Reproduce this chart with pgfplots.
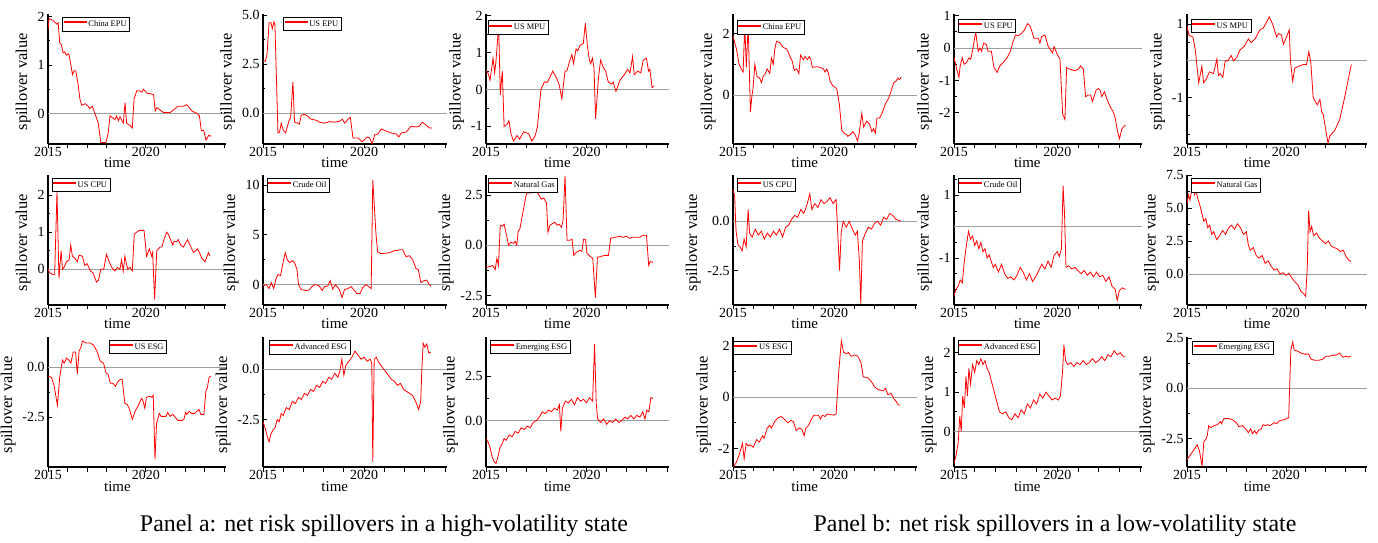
\documentclass[border=0pt]{standalone}
\usepackage{fontspec}
\setmainfont{Liberation Serif}
\usepackage{pgfplots}
\pgfplotsset{compat=1.18}
\pgfplotsset{
  sp/.style={
    scale only axis, anchor=south west,
    height=130bp,
    xmin=2015, xmax=2024.1,
    axis x line*=bottom, axis y line*=left,
    axis line style={line width=1.1pt, black},
    xtick={2015,2016,...,2024},
    xticklabels={2015,,,,,2020},
    minor y tick num=1,
    tick align=inside,
    major tick length=4.5bp, minor tick length=2.5bp,
    tick style={black, line width=0.8pt},
    x tick style={yshift=-4.5bp},
    xticklabel style={font=\fontsize{14}{14}\selectfont},
    yticklabel style={font=\fontsize{14}{14}\selectfont},
    xlabel={time}, ylabel={spillover value},
    xlabel style={font=\fontsize{15}{15}\selectfont, at={(axis description cs:0.39,0)}, anchor=base, yshift=-24bp},
    ylabel style={font=\fontsize{16.5}{16.5}\selectfont, at={(ticklabel cs:0.48)}, anchor=near ticklabel},
    legend cell align=left,
    legend style={draw=black, line width=0.7pt, font=\fontsize{8.5}{9}\selectfont, inner xsep=1pt, inner ysep=1pt, anchor=north west},
  },
  zl/.style={gray!75, line width=0.8pt, forget plot},
  sl/.style={red, line width=0.8pt, legend image code/.code={\fill[red] (0bp,1.4bp) rectangle (22bp,2.4bp);}},
}
\begin{document}
\begin{tikzpicture}
\useasboundingbox (0,0) rectangle (1378bp,543bp);

% ---------------- Panel a ----------------
\begin{axis}[sp, at={(48bp,399bp)}, width=178bp, ymin=-0.63, ymax=2.05, ytick={0,1,2}, yticklabels={0,1,2}, legend style={at={(axis description cs:0.08,0.975)}}]
\addplot[zl] coordinates {(2015,0) (2024.1,0)};
\addplot[sl] coordinates {(2015.0,1.72) (2015.05,1.95) (2015.25,1.92) (2015.35,1.88) (2015.45,1.84) (2015.52,1.87) (2015.6,1.45) (2015.68,1.42) (2015.77,1.25) (2015.85,1.27) (2015.94,1.2) (2016.06,1.23) (2016.15,1.05) (2016.25,0.8) (2016.33,0.88) (2016.42,0.88) (2016.54,0.6) (2016.63,0.3) (2016.72,0.17) (2016.9,0.2) (2017.05,0.15) (2017.13,0.1) (2017.26,0.15) (2017.4,0.0) (2017.57,-0.2) (2017.7,-0.6) (2017.96,-0.6) (2018.08,-0.4) (2018.17,-0.05) (2018.34,-0.1) (2018.42,-0.13) (2018.5,-0.05) (2018.6,-0.15) (2018.68,-0.07) (2018.85,-0.2) (2018.94,0.22) (2019.02,-0.2) (2019.2,-0.25) (2019.31,-0.3) (2019.4,0.3) (2019.54,0.47) (2019.68,0.46) (2019.8,0.44) (2019.88,0.5) (2020.05,0.42) (2020.3,0.4) (2020.4,0.38) (2020.48,0.05) (2020.56,0.12) (2020.7,0.08) (2020.9,0.02) (2021.25,0.02) (2021.5,0.1) (2021.65,0.15) (2021.93,0.15) (2022.1,0.18) (2022.36,0.05) (2022.62,0.0) (2022.74,-0.05) (2022.84,-0.35) (2022.96,-0.35) (2023.08,-0.55) (2023.22,-0.45) (2023.34,-0.47)};
\addlegendentry{China EPU}
\end{axis}

\begin{axis}[sp, at={(263bp,399bp)}, width=184bp, ymin=-1.56, ymax=5.05, ytick={0,2.5,5}, yticklabels={0.0,2.5,5.0}, legend style={at={(axis description cs:0.11,0.975)}}]
\addplot[zl] coordinates {(2015,0) (2024.1,0)};
\addplot[sl] coordinates {(2015.0,2.65) (2015.12,2.65) (2015.2,3.0) (2015.3,4.6) (2015.4,4.6) (2015.46,4.3) (2015.54,4.65) (2015.59,4.5) (2015.74,-1.0) (2015.82,-0.95) (2015.9,-0.5) (2016.0,-0.85) (2016.12,-1.0) (2016.28,-0.4) (2016.37,-0.2) (2016.48,1.6) (2016.56,-0.45) (2016.72,-0.5) (2016.8,-0.55) (2016.89,-0.1) (2017.05,-0.05) (2017.22,-0.15) (2017.38,-0.3) (2017.63,-0.35) (2017.8,-0.45) (2018.05,-0.5) (2018.3,-0.42) (2018.54,-0.45) (2018.79,-0.4) (2018.92,-0.3) (2019.04,-0.5) (2019.2,-0.3) (2019.32,-0.2) (2019.45,-1.25) (2019.7,-1.25) (2019.9,-1.45) (2020.02,-1.35) (2020.14,-1.2) (2020.27,-1.25) (2020.4,-1.55) (2020.52,-1.1) (2020.68,-1.05) (2020.85,-0.8) (2021.1,-0.9) (2021.34,-1.0) (2021.59,-1.05) (2021.72,-1.2) (2021.84,-1.0) (2022.08,-0.95) (2022.33,-0.65) (2022.58,-0.7) (2022.74,-0.65) (2022.87,-0.45) (2023.07,-0.6) (2023.24,-0.75) (2023.35,-0.75)};
\addlegendentry{US EPU}
\end{axis}

\begin{axis}[sp, at={(486bp,399bp)}, width=183bp, ymin=-1.48, ymax=2.05, ytick={-1,0,1,2}, yticklabels={-1,0,1,2}, legend style={at={(axis description cs:0.01,0.95)}}]
\addplot[zl] coordinates {(2015,0) (2024.1,0)};
\addplot[sl] coordinates {(2015.0,0.5) (2015.1,0.45) (2015.2,0.25) (2015.35,0.85) (2015.43,0.45) (2015.5,0.8) (2015.63,1.75) (2015.71,-0.15) (2015.81,0.5) (2015.9,-1.0) (2016.04,-0.95) (2016.14,-0.85) (2016.24,-1.2) (2016.37,-1.4) (2016.54,-1.25) (2016.67,-1.35) (2016.87,-1.15) (2017.12,-1.2) (2017.28,-1.4) (2017.45,-1.25) (2017.56,-1.0) (2017.73,0.0) (2017.9,0.2) (2018.06,0.2) (2018.32,0.5) (2018.52,0.3) (2018.65,0.1) (2018.77,-0.25) (2018.93,0.5) (2019.02,0.5) (2019.15,0.75) (2019.27,0.95) (2019.35,0.7) (2019.48,1.1) (2019.56,1.05) (2019.68,1.2) (2019.84,1.25) (2019.94,1.8) (2020.04,1.2) (2020.14,0.8) (2020.21,0.7) (2020.29,0.85) (2020.37,0.6) (2020.45,-0.8) (2020.59,0.3) (2020.7,0.8) (2020.83,0.6) (2020.95,0.5) (2021.08,0.2) (2021.25,0.15) (2021.33,0.2) (2021.46,-0.05) (2021.66,0.25) (2021.88,0.4) (2022.04,0.55) (2022.16,0.45) (2022.29,0.9) (2022.37,0.4) (2022.54,0.5) (2022.7,0.45) (2022.82,0.8) (2022.98,0.85) (2023.08,0.5) (2023.15,0.55) (2023.26,0.05) (2023.36,0.1)};
\addlegendentry{US MPU}
\end{axis}

\begin{axis}[sp, at={(48bp,238bp)}, width=178bp, ymin=-0.97, ymax=2.55, ytick={0,1,2}, yticklabels={0,1,2}, legend style={at={(axis description cs:0.02,0.975)}}]
\addplot[zl] coordinates {(2015,0) (2024.1,0)};
\addplot[sl] coordinates {(2015.0,0.0) (2015.09,-0.1) (2015.26,-0.15) (2015.34,-0.15) (2015.46,2.1) (2015.56,-0.25) (2015.67,0.5) (2015.74,0.0) (2015.82,0.05) (2015.94,0.2) (2016.08,0.25) (2016.16,0.65) (2016.25,0.35) (2016.37,0.3) (2016.5,0.2) (2016.59,0.38) (2016.76,0.35) (2016.88,0.1) (2017.0,0.15) (2017.17,-0.05) (2017.3,-0.1) (2017.48,-0.35) (2017.58,-0.3) (2017.7,0.0) (2017.85,0.0) (2017.99,0.4) (2018.13,0.2) (2018.26,0.05) (2018.42,-0.05) (2018.54,0.05) (2018.68,0.0) (2018.76,0.25) (2018.85,-0.05) (2018.93,0.35) (2019.07,0.0) (2019.19,0.05) (2019.31,-0.05) (2019.41,0.95) (2019.53,1.0) (2019.67,1.05) (2019.91,1.05) (2020.04,0.35) (2020.18,0.55) (2020.3,0.35) (2020.35,0.45) (2020.45,-0.82) (2020.56,0.5) (2020.73,0.6) (2020.82,0.6) (2020.93,0.8) (2021.07,1.0) (2021.15,0.95) (2021.38,0.65) (2021.44,0.75) (2021.58,0.75) (2021.66,0.8) (2021.79,0.65) (2021.92,0.6) (2022.13,0.8) (2022.26,0.65) (2022.44,0.45) (2022.64,0.55) (2022.74,0.45) (2022.86,0.3) (2023.03,0.2) (2023.2,0.45) (2023.29,0.35)};
\addlegendentry{US CPU}
\end{axis}

\begin{axis}[sp, at={(263bp,238bp)}, width=184bp, ymin=-2.05, ymax=11, ytick={0,5,10}, yticklabels={0,5,10}, legend style={at={(axis description cs:0.02,0.975)}}]
\addplot[zl] coordinates {(2015,0) (2024.1,0)};
\addplot[sl] coordinates {(2015.0,-0.15) (2015.16,0.0) (2015.3,-0.4) (2015.41,0.2) (2015.53,-0.4) (2015.63,0.5) (2015.74,1.0) (2015.87,0.9) (2015.99,2.2) (2016.1,3.2) (2016.2,2.5) (2016.32,2.2) (2016.45,2.4) (2016.56,2.2) (2016.68,1.5) (2016.76,0.0) (2016.89,-0.5) (2017.14,-0.6) (2017.27,-0.55) (2017.43,-0.2) (2017.55,0.0) (2017.76,-0.1) (2017.93,-0.6) (2018.04,-0.2) (2018.2,-0.15) (2018.32,0.4) (2018.45,-0.45) (2018.58,0.0) (2018.78,-0.5) (2018.91,-1.3) (2019.03,-0.5) (2019.2,-0.4) (2019.36,-0.2) (2019.64,-0.9) (2019.8,-0.9) (2019.93,-0.3) (2020.1,0.0) (2020.35,-0.4) (2020.43,10.5) (2020.59,5.0) (2020.67,3.3) (2020.84,3.1) (2021.25,3.2) (2021.5,3.4) (2021.83,3.5) (2021.91,3.5) (2022.07,2.8) (2022.24,2.9) (2022.4,2.5) (2022.57,1.6) (2022.68,1.5) (2022.81,0.2) (2022.98,0.4) (2023.1,0.45) (2023.22,0.0) (2023.32,-0.15)};
\addlegendentry{Crude Oil}
\end{axis}

\begin{axis}[sp, at={(486bp,238bp)}, width=183bp, ymin=-2.97, ymax=3.5, ytick={-2.5,0,2.5}, yticklabels={-2.5,0.0,2.5}, legend style={at={(axis description cs:0.01,0.975)}}]
\addplot[zl] coordinates {(2015,0) (2024.1,0)};
\addplot[sl] coordinates {(2015.0,-1.1) (2015.21,-1.05) (2015.33,-1.0) (2015.46,-1.2) (2015.54,-0.65) (2015.62,-1.0) (2015.71,1.0) (2015.82,0.95) (2015.9,1.05) (2016.0,0.6) (2016.12,0.0) (2016.23,0.15) (2016.37,0.1) (2016.45,0.2) (2016.53,0.0) (2016.6,0.7) (2016.68,0.8) (2016.81,1.5) (2016.9,2.0) (2017.02,2.6) (2017.22,2.6) (2017.47,2.65) (2017.58,2.6) (2017.75,2.3) (2017.88,2.35) (2018.01,2.1) (2018.08,0.65) (2018.18,1.0) (2018.34,1.1) (2018.42,1.15) (2018.54,1.0) (2018.64,1.05) (2018.75,0.9) (2018.83,1.2) (2018.93,3.45) (2019.03,0.25) (2019.16,0.25) (2019.28,0.3) (2019.36,-0.5) (2019.49,-0.35) (2019.66,-0.25) (2019.77,-0.3) (2019.85,0.3) (2019.95,0.3) (2020.02,-0.4) (2020.18,-0.55) (2020.31,-0.65) (2020.44,-2.6) (2020.54,-0.6) (2020.71,-0.55) (2020.92,-0.5) (2021.09,-0.5) (2021.2,0.35) (2021.41,0.4) (2021.66,0.45) (2021.79,0.4) (2021.99,0.45) (2022.15,0.35) (2022.28,0.4) (2022.65,0.4) (2022.81,0.5) (2022.98,0.5) (2023.09,-1.0) (2023.17,-0.8) (2023.3,-0.85)};
\addlegendentry{Natural Gas}
\end{axis}

\begin{axis}[sp, at={(48bp,76bp)}, width=178bp, ymin=-4.97, ymax=1.5, ytick={-2.5,0}, yticklabels={-2.5,0.0}, legend style={at={(axis description cs:0.34,0.975)}}]
\addplot[zl] coordinates {(2015,0) (2024.1,0)};
\addplot[sl] coordinates {(2015.0,-0.45) (2015.17,-0.5) (2015.31,-0.9) (2015.48,-1.9) (2015.6,-0.5) (2015.74,0.35) (2015.83,0.2) (2015.95,0.45) (2016.07,0.35) (2016.17,0.2) (2016.29,0.75) (2016.41,0.75) (2016.5,-0.35) (2016.59,0.8) (2016.69,1.0) (2016.76,1.3) (2016.93,1.2) (2017.16,1.2) (2017.33,1.1) (2017.5,0.8) (2017.67,0.3) (2017.84,0.2) (2017.97,-0.3) (2018.07,-0.35) (2018.19,-0.8) (2018.31,-0.8) (2018.45,-0.95) (2018.59,-0.7) (2018.71,-0.6) (2018.79,-0.6) (2018.93,-1.8) (2019.05,-1.85) (2019.17,-2.1) (2019.31,-2.6) (2019.45,-2.2) (2019.62,-1.9) (2019.79,-1.55) (2019.86,-1.7) (2019.95,-2.05) (2020.03,-1.5) (2020.2,-1.45) (2020.31,-1.5) (2020.38,-1.4) (2020.47,-4.6) (2020.55,-2.8) (2020.69,-2.3) (2020.78,-2.45) (2021.03,-2.45) (2021.12,-2.25) (2021.24,-2.45) (2021.38,-2.35) (2021.47,-2.45) (2021.64,-2.65) (2021.86,-2.65) (2021.95,-2.6) (2022.03,-2.25) (2022.1,-2.35) (2022.22,-2.2) (2022.33,-2.3) (2022.5,-2.3) (2022.72,-2.1) (2022.81,-2.35) (2022.97,-2.35) (2023.07,-1.2) (2023.14,-1.05) (2023.24,-0.5) (2023.33,-0.45)};
\addlegendentry{US ESG}
\end{axis}

\begin{axis}[sp, at={(263bp,76bp)}, width=184bp, ymin=-4.85, ymax=1.6, ytick={-2.5,0}, yticklabels={-2.5,0.0}, legend style={at={(axis description cs:0.03,0.975)}}]
\addplot[zl] coordinates {(2015,0) (2024.1,0)};
\addplot[sl] coordinates {(2015.0,-2.6) (2015.1,-2.9) (2015.2,-3.3) (2015.3,-3.6) (2015.4,-3.2) (2015.5,-3.0) (2015.6,-2.9) (2015.7,-2.5) (2015.8,-2.6) (2015.9,-2.2) (2016.0,-2.3) (2016.15,-1.9) (2016.3,-2.0) (2016.45,-1.6) (2016.6,-1.7) (2016.75,-1.4) (2016.9,-1.5) (2017.05,-1.2) (2017.2,-1.3) (2017.35,-1.0) (2017.5,-1.1) (2017.65,-0.8) (2017.8,-0.9) (2017.95,-0.6) (2018.1,-0.7) (2018.25,-0.4) (2018.4,-0.5) (2018.55,-0.2) (2018.7,-0.4) (2018.8,-0.1) (2018.9,0.5) (2019.0,-0.3) (2019.1,0.2) (2019.25,0.4) (2019.4,0.6) (2019.55,0.9) (2019.7,0.7) (2019.85,0.5) (2020.0,0.6) (2020.15,0.4) (2020.3,0.5) (2020.38,0.3) (2020.43,-4.6) (2020.5,0.5) (2020.6,0.6) (2020.75,0.3) (2020.9,0.1) (2021.05,-0.1) (2021.2,-0.3) (2021.35,-0.5) (2021.5,-0.6) (2021.65,-0.8) (2021.8,-0.7) (2021.95,-1.0) (2022.1,-1.1) (2022.25,-1.2) (2022.4,-1.3) (2022.55,-1.6) (2022.7,-2.0) (2022.8,-1.6) (2022.85,-0.2) (2022.92,1.3) (2023.0,1.1) (2023.1,1.25) (2023.2,0.8) (2023.3,0.85)};
\addlegendentry{Advanced ESG}
\end{axis}

\begin{axis}[sp, at={(486bp,76bp)}, width=183bp, ymin=-2.6, ymax=4.7, ytick={0,2.5}, yticklabels={0.0,2.5}, legend style={at={(axis description cs:0.02,0.975)}}]
\addplot[zl] coordinates {(2015,0) (2024.1,0)};
\addplot[sl] coordinates {(2015.0,-1.0) (2015.1,-1.2) (2015.2,-1.5) (2015.3,-2.0) (2015.4,-2.3) (2015.5,-2.4) (2015.6,-2.0) (2015.7,-1.5) (2015.8,-1.3) (2015.9,-1.0) (2016.0,-1.1) (2016.15,-0.8) (2016.3,-0.9) (2016.45,-0.6) (2016.6,-0.7) (2016.75,-0.4) (2016.9,-0.5) (2017.05,-0.3) (2017.2,-0.4) (2017.35,-0.1) (2017.5,0.0) (2017.65,0.2) (2017.8,0.5) (2017.95,0.4) (2018.1,0.6) (2018.25,0.5) (2018.4,0.7) (2018.55,0.6) (2018.65,0.9) (2018.72,-0.6) (2018.8,0.7) (2018.95,1.1) (2019.1,1.0) (2019.25,1.2) (2019.4,0.9) (2019.55,1.3) (2019.7,1.1) (2019.85,1.2) (2020.0,1.0) (2020.15,1.3) (2020.3,1.1) (2020.4,4.3) (2020.48,1.0) (2020.55,0.1) (2020.7,-0.1) (2020.85,0.1) (2021.0,-0.2) (2021.15,0.0) (2021.3,-0.1) (2021.45,0.1) (2021.6,-0.1) (2021.75,0.0) (2021.9,0.2) (2022.05,0.1) (2022.2,0.3) (2022.35,0.1) (2022.5,0.3) (2022.65,0.2) (2022.8,0.5) (2022.9,0.1) (2023.0,0.6) (2023.1,0.5) (2023.2,1.3) (2023.3,1.25)};
\addlegendentry{Emerging ESG}
\end{axis}

% ---------------- Panel b ----------------
\begin{axis}[sp, at={(733bp,399bp)}, width=184bp, ymin=-1.6, ymax=2.64, ytick={0,2}, yticklabels={0,2}, legend style={at={(axis description cs:0.02,0.95)}}]
\addplot[zl] coordinates {(2015,0) (2024.1,0)};
\addplot[sl] coordinates {(2015.0,1.92) (2015.17,1.5) (2015.3,1.0) (2015.41,0.85) (2015.5,0.75) (2015.58,2.25) (2015.66,0.9) (2015.75,2.3) (2015.86,-0.55) (2015.94,0.0) (2015.99,0.2) (2016.08,1.0) (2016.19,0.6) (2016.32,0.55) (2016.41,0.4) (2016.49,0.6) (2016.6,0.7) (2016.69,0.85) (2016.82,0.7) (2016.9,1.2) (2016.99,1.0) (2017.07,1.5) (2017.15,1.75) (2017.32,1.7) (2017.48,1.55) (2017.65,1.5) (2017.73,1.4) (2017.85,1.2) (2017.93,1.1) (2018.03,0.8) (2018.15,0.85) (2018.26,0.7) (2018.34,1.3) (2018.48,1.15) (2018.56,1.25) (2018.68,1.15) (2018.77,1.25) (2018.85,1.15) (2018.92,0.9) (2019.14,0.92) (2019.3,0.9) (2019.47,0.85) (2019.55,0.75) (2019.64,0.85) (2019.72,0.7) (2019.8,0.45) (2019.93,0.3) (2020.05,0.25) (2020.13,0.2) (2020.26,-0.3) (2020.38,-1.15) (2020.5,-1.25) (2020.63,-1.3) (2020.68,-1.35) (2020.79,-1.3) (2020.93,-1.2) (2021.04,-1.3) (2021.16,-1.5) (2021.24,-1.25) (2021.37,-0.6) (2021.46,-1.05) (2021.62,-0.85) (2021.75,-0.95) (2021.87,-1.2) (2021.95,-1.1) (2022.04,-1.25) (2022.12,-0.75) (2022.25,-0.75) (2022.37,-0.6) (2022.53,-0.3) (2022.7,-0.1) (2022.78,0.05) (2022.95,0.4) (2023.06,0.45) (2023.16,0.55) (2023.23,0.5) (2023.33,0.58)};
\addlegendentry{China EPU}
\end{axis}

\begin{axis}[sp, at={(954bp,399bp)}, width=188bp, ymin=-2.96, ymax=1.05, ytick={-2,-1,0,1}, yticklabels={-2,-1,0,1}, legend style={at={(axis description cs:0.02,0.96)}}]
\addplot[zl] coordinates {(2015,0) (2024.1,0)};
\addplot[sl] coordinates {(2015.0,-0.28) (2015.11,-0.6) (2015.24,-0.9) (2015.3,-0.55) (2015.4,-0.3) (2015.49,-0.5) (2015.6,-0.45) (2015.73,-0.3) (2015.81,-0.35) (2015.92,0.0) (2016.05,0.5) (2016.17,-0.1) (2016.25,0.0) (2016.33,-0.1) (2016.44,0.15) (2016.57,0.1) (2016.65,-0.1) (2016.81,-0.1) (2016.93,-0.6) (2017.09,-0.75) (2017.22,-0.55) (2017.38,-0.45) (2017.57,-0.3) (2017.73,-0.1) (2017.86,0.2) (2017.98,0.4) (2018.11,0.38) (2018.27,0.45) (2018.4,0.55) (2018.56,0.75) (2018.67,0.7) (2018.75,0.55) (2018.87,0.3) (2019.08,0.3) (2019.16,0.15) (2019.24,0.35) (2019.4,0.4) (2019.56,0.05) (2019.77,-0.15) (2019.84,0.05) (2020.0,-0.2) (2020.13,-0.35) (2020.26,-2.05) (2020.37,-2.2) (2020.45,-0.6) (2020.58,-0.65) (2020.86,-0.7) (2021.02,-0.65) (2021.13,-0.55) (2021.26,-0.65) (2021.37,-1.5) (2021.5,-1.45) (2021.61,-1.45) (2021.7,-1.65) (2021.88,-1.3) (2021.99,-1.25) (2022.07,-1.3) (2022.15,-1.5) (2022.28,-1.35) (2022.42,-1.6) (2022.55,-1.8) (2022.69,-1.95) (2022.8,-2.15) (2022.91,-2.55) (2023.01,-2.8) (2023.12,-2.5) (2023.24,-2.4) (2023.32,-2.4)};
\addlegendentry{US EPU}
\end{axis}

\begin{axis}[sp, at={(1187bp,399bp)}, width=180bp, ymin=-2.27, ymax=1.28, ytick={-1,1}, yticklabels={-1,1}, minor ytick={-2,-1.5,-0.5,0,0.5}, minor y tick num=0, legend style={at={(axis description cs:0.02,0.96)}}]
\addplot[zl] coordinates {(2015,0) (2024.1,0)};
\addplot[sl] coordinates {(2015.0,0.95) (2015.1,0.7) (2015.3,0.65) (2015.42,0.3) (2015.59,-0.6) (2015.75,-0.15) (2015.84,-0.6) (2015.97,-0.5) (2016.14,-0.3) (2016.34,-0.35) (2016.51,0.05) (2016.59,-0.4) (2016.68,-0.35) (2016.81,-0.45) (2016.93,0.0) (2017.06,0.0) (2017.23,0.15) (2017.35,0.0) (2017.52,0.1) (2017.68,0.3) (2017.9,0.4) (2018.1,0.6) (2018.24,0.5) (2018.44,0.6) (2018.69,0.85) (2018.86,0.9) (2019.16,1.2) (2019.33,1.0) (2019.53,0.65) (2019.62,0.75) (2019.78,0.7) (2019.87,0.45) (2019.95,0.55) (2020.17,0.85) (2020.23,0.0) (2020.34,-0.55) (2020.45,-0.2) (2020.62,-0.15) (2020.87,-0.1) (2021.04,-0.1) (2021.16,0.25) (2021.26,-0.05) (2021.38,-1.0) (2021.58,-1.2) (2021.72,-1.05) (2021.81,-1.4) (2021.88,-1.45) (2022.13,-2.25) (2022.22,-2.05) (2022.47,-1.9) (2022.72,-1.6) (2022.97,-1.0) (2023.19,-0.4) (2023.31,-0.1)};
\addlegendentry{US MPU}
\end{axis}

\begin{axis}[sp, at={(733bp,238bp)}, width=184bp, ymin=-4.25, ymax=2.35, ytick={-2.5,0}, yticklabels={-2.5,0.0}, legend style={at={(axis description cs:0.02,0.975)}}]
\addplot[zl] coordinates {(2015,0) (2024.1,0)};
\addplot[sl] coordinates {(2015.0,1.6) (2015.08,1.3) (2015.15,-0.5) (2015.25,-1.2) (2015.35,-1.3) (2015.45,-1.5) (2015.55,-0.9) (2015.65,-1.3) (2015.75,0.6) (2015.82,-0.6) (2015.95,-0.8) (2016.1,-0.4) (2016.25,-0.7) (2016.4,-0.5) (2016.55,-0.9) (2016.7,-0.6) (2016.85,-0.8) (2017.0,-0.5) (2017.15,-0.7) (2017.3,-0.4) (2017.45,-0.8) (2017.6,-0.3) (2017.75,-0.2) (2017.9,0.1) (2018.05,0.3) (2018.2,0.2) (2018.35,0.6) (2018.5,0.4) (2018.65,0.8) (2018.8,1.4) (2018.9,0.6) (2019.05,0.9) (2019.2,0.7) (2019.35,1.1) (2019.5,0.9) (2019.65,1.0) (2019.8,1.2) (2019.95,0.9) (2020.1,1.1) (2020.2,-1.0) (2020.27,-2.5) (2020.35,-0.6) (2020.45,0.0) (2020.6,-0.3) (2020.75,0.0) (2020.9,-0.4) (2021.05,-0.7) (2021.15,-0.5) (2021.25,-2.0) (2021.32,-4.2) (2021.4,-1.0) (2021.55,-0.6) (2021.7,-0.3) (2021.85,-0.4) (2022.0,-0.1) (2022.15,0.0) (2022.3,-0.2) (2022.45,0.2) (2022.6,0.1) (2022.75,0.4) (2022.9,0.3) (2023.05,0.1) (2023.2,0.05) (2023.3,0.0)};
\addlegendentry{US CPU}
\end{axis}

\begin{axis}[sp, at={(954bp,238bp)}, width=188bp, ymin=-2.5, ymax=1.65, ytick={-1,1}, yticklabels={-1,1}, minor ytick={-2,-1.5,-0.5,0,0.5,1.5}, minor y tick num=0, legend style={at={(axis description cs:0.02,0.975)}}]
\addplot[zl] coordinates {(2015,0) (2024.1,0)};
\addplot[sl] coordinates {(2015.0,-2.2) (2015.1,-2.0) (2015.2,-1.9) (2015.3,-1.7) (2015.4,-1.8) (2015.5,-1.1) (2015.6,-0.6) (2015.7,-0.15) (2015.8,-0.4) (2015.9,-0.3) (2016.0,-0.6) (2016.1,-0.45) (2016.2,-0.7) (2016.3,-0.5) (2016.4,-0.8) (2016.5,-0.7) (2016.6,-1.0) (2016.7,-0.9) (2016.8,-1.1) (2016.9,-1.3) (2017.0,-1.2) (2017.15,-1.45) (2017.3,-1.2) (2017.45,-1.5) (2017.6,-1.65) (2017.75,-1.6) (2017.9,-1.7) (2018.05,-1.55) (2018.2,-1.3) (2018.35,-1.45) (2018.5,-1.7) (2018.65,-1.5) (2018.8,-1.75) (2018.95,-1.6) (2019.1,-1.4) (2019.25,-1.2) (2019.4,-1.35) (2019.55,-1.1) (2019.7,-1.3) (2019.85,-0.9) (2020.0,-0.8) (2020.1,-0.95) (2020.2,-0.7) (2020.28,1.3) (2020.35,0.4) (2020.42,-1.3) (2020.55,-1.25) (2020.7,-1.35) (2020.85,-1.3) (2021.0,-1.4) (2021.15,-1.5) (2021.3,-1.4) (2021.45,-1.55) (2021.6,-1.45) (2021.75,-1.6) (2021.9,-1.45) (2022.05,-1.6) (2022.2,-1.55) (2022.35,-1.75) (2022.5,-1.6) (2022.65,-1.9) (2022.8,-2.0) (2022.9,-2.35) (2023.0,-2.05) (2023.15,-1.95) (2023.3,-2.0)};
\addlegendentry{Crude Oil}
\end{axis}

\begin{axis}[sp, at={(1187bp,238bp)}, width=180bp, ymin=-2.35, ymax=7.5, ytick={0,2.5,5,7.5}, yticklabels={0.0,2.5,5.0,7.5}, legend style={at={(axis description cs:0.02,0.975)}}]
\addplot[zl] coordinates {(2015,0) (2024.1,0)};
\addplot[sl] coordinates {(2015.0,5.3) (2015.08,6.0) (2015.15,5.6) (2015.22,6.2) (2015.3,6.9) (2015.38,6.0) (2015.46,6.3) (2015.55,5.7) (2015.65,5.2) (2015.75,4.6) (2015.85,4.0) (2015.95,4.2) (2016.05,3.5) (2016.15,3.7) (2016.25,3.0) (2016.35,3.2) (2016.5,2.6) (2016.65,2.9) (2016.8,3.3) (2016.95,3.0) (2017.1,3.5) (2017.25,3.7) (2017.4,3.4) (2017.55,3.8) (2017.7,3.5) (2017.85,3.0) (2018.0,3.2) (2018.1,2.2) (2018.2,1.8) (2018.35,2.0) (2018.5,1.4) (2018.65,1.2) (2018.8,1.4) (2018.95,0.8) (2019.1,1.0) (2019.25,0.6) (2019.4,0.3) (2019.55,0.4) (2019.7,0.0) (2019.85,0.1) (2020.0,-0.1) (2020.15,0.05) (2020.3,-0.3) (2020.45,-0.6) (2020.6,-0.8) (2020.75,-1.3) (2020.9,-1.5) (2021.0,-1.7) (2021.08,0.5) (2021.15,4.8) (2021.22,3.2) (2021.3,3.6) (2021.4,2.9) (2021.55,3.1) (2021.7,2.7) (2021.85,2.5) (2022.0,2.3) (2022.15,2.5) (2022.3,2.1) (2022.45,2.0) (2022.6,1.9) (2022.75,1.7) (2022.9,1.8) (2023.05,1.3) (2023.2,1.0) (2023.3,0.95)};
\addlegendentry{Natural Gas}
\end{axis}

\begin{axis}[sp, at={(733bp,76bp)}, width=184bp, ymin=-2.72, ymax=2.35, ytick={-2,0,2}, yticklabels={-2,0,2}, legend style={at={(axis description cs:0.0,0.97)}}]
\addplot[zl] coordinates {(2015,0) (2024.1,0)};
\addplot[sl] coordinates {(2015.0,-2.75) (2015.19,-2.5) (2015.32,-2.2) (2015.47,-1.8) (2015.55,-2.4) (2015.65,-1.8) (2015.76,-1.9) (2015.84,-1.85) (2016.0,-1.95) (2016.17,-1.65) (2016.3,-1.75) (2016.46,-1.5) (2016.54,-1.6) (2016.69,-1.2) (2016.82,-1.1) (2016.9,-1.2) (2017.06,-0.95) (2017.22,-0.8) (2017.39,-0.75) (2017.6,-0.9) (2017.71,-1.0) (2017.87,-0.9) (2017.99,-0.95) (2018.12,-1.3) (2018.28,-1.2) (2018.41,-1.25) (2018.52,-1.5) (2018.6,-1.2) (2018.73,-1.1) (2018.85,-0.9) (2019.0,-0.7) (2019.22,-0.7) (2019.33,-0.85) (2019.42,-0.7) (2019.55,-0.75) (2019.66,-0.65) (2019.98,-0.7) (2020.1,-0.65) (2020.23,1.0) (2020.36,2.2) (2020.47,1.75) (2020.63,1.7) (2020.71,1.75) (2020.84,1.6) (2021.04,1.65) (2021.17,1.6) (2021.33,1.35) (2021.44,0.8) (2021.69,0.75) (2021.85,0.6) (2022.01,0.4) (2022.18,0.3) (2022.42,0.25) (2022.54,0.35) (2022.66,0.1) (2022.82,0.15) (2022.95,-0.05) (2023.06,-0.15) (2023.18,-0.3) (2023.28,-0.3)};
\addlegendentry{US ESG}
\end{axis}

\begin{axis}[sp, at={(954bp,76bp)}, width=188bp, ymin=-0.9, ymax=2.4, ytick={0,1,2}, yticklabels={0,1,2}, legend style={at={(axis description cs:0.02,0.975)}}]
\addplot[zl] coordinates {(2015,0) (2024.1,0)};
\addplot[sl] coordinates {(2015.0,-0.8) (2015.1,-0.6) (2015.2,-0.3) (2015.28,0.4) (2015.35,0.0) (2015.42,0.9) (2015.5,0.6) (2015.58,1.4) (2015.65,0.9) (2015.72,1.6) (2015.8,1.2) (2015.9,1.7) (2016.0,1.5) (2016.1,1.8) (2016.2,1.7) (2016.3,1.85) (2016.4,1.7) (2016.5,1.8) (2016.6,1.6) (2016.7,1.5) (2016.8,1.3) (2016.9,1.1) (2017.0,0.9) (2017.1,0.7) (2017.2,0.5) (2017.35,0.45) (2017.5,0.5) (2017.65,0.35) (2017.8,0.3) (2017.95,0.45) (2018.1,0.35) (2018.25,0.55) (2018.4,0.45) (2018.55,0.7) (2018.7,0.6) (2018.85,0.8) (2019.0,0.7) (2019.15,0.95) (2019.3,0.85) (2019.45,1.0) (2019.6,0.9) (2019.75,0.8) (2019.9,0.85) (2020.05,0.8) (2020.15,0.9) (2020.25,1.5) (2020.32,2.2) (2020.4,1.8) (2020.5,1.7) (2020.65,1.75) (2020.8,1.65) (2020.95,1.75) (2021.1,1.7) (2021.25,1.8) (2021.4,1.7) (2021.55,1.75) (2021.7,1.85) (2021.85,1.75) (2022.0,1.8) (2022.15,1.9) (2022.3,1.8) (2022.45,1.95) (2022.6,1.9) (2022.75,2.05) (2022.9,1.95) (2023.05,2.0) (2023.2,1.9) (2023.3,1.9)};
\addlegendentry{Advanced ESG}
\end{axis}

\begin{axis}[sp, at={(1187bp,76bp)}, width=180bp, ymin=-3.9, ymax=2.55, ytick={-2.5,0,2.5}, yticklabels={-2.5,0.0,2.5}, legend style={at={(axis description cs:0.03,0.97)}}]
\addplot[zl] coordinates {(2015,0) (2024.1,0)};
\addplot[sl] coordinates {(2015.0,-3.53) (2015.17,-3.3) (2015.31,-3.1) (2015.51,-2.8) (2015.63,-3.1) (2015.76,-3.85) (2015.85,-2.65) (2015.97,-2.5) (2016.02,-2.35) (2016.1,-1.85) (2016.19,-1.95) (2016.36,-1.85) (2016.53,-1.8) (2016.7,-1.65) (2016.75,-1.75) (2016.86,-1.5) (2017.12,-1.5) (2017.29,-1.55) (2017.49,-1.7) (2017.63,-1.9) (2017.8,-1.85) (2018.0,-2.05) (2018.1,-2.2) (2018.22,-2.0) (2018.31,-2.25) (2018.41,-2.1) (2018.51,-2.25) (2018.64,-2.05) (2018.73,-2.05) (2018.85,-1.8) (2018.95,-1.85) (2019.07,-1.8) (2019.19,-1.85) (2019.41,-1.7) (2019.53,-1.75) (2019.69,-1.6) (2019.92,-1.55) (2020.14,-1.45) (2020.25,1.9) (2020.34,2.3) (2020.42,1.9) (2020.59,1.85) (2020.76,1.75) (2020.93,1.7) (2021.15,1.7) (2021.27,1.45) (2021.44,1.4) (2021.69,1.4) (2021.86,1.45) (2022.03,1.6) (2022.2,1.6) (2022.37,1.65) (2022.54,1.65) (2022.71,1.75) (2022.88,1.55) (2023.05,1.6) (2023.17,1.55) (2023.27,1.6)};
\addlegendentry{Emerging ESG}
\end{axis}

\node[font=\fontsize{24}{24}\selectfont, anchor=base] at (384bp,12bp) {Panel a: net risk spillovers in a high-volatility state};
\node[font=\fontsize{24}{24}\selectfont, anchor=base] at (1055bp,12bp) {Panel b: net risk spillovers in a low-volatility state};
\end{tikzpicture}
\end{document}
